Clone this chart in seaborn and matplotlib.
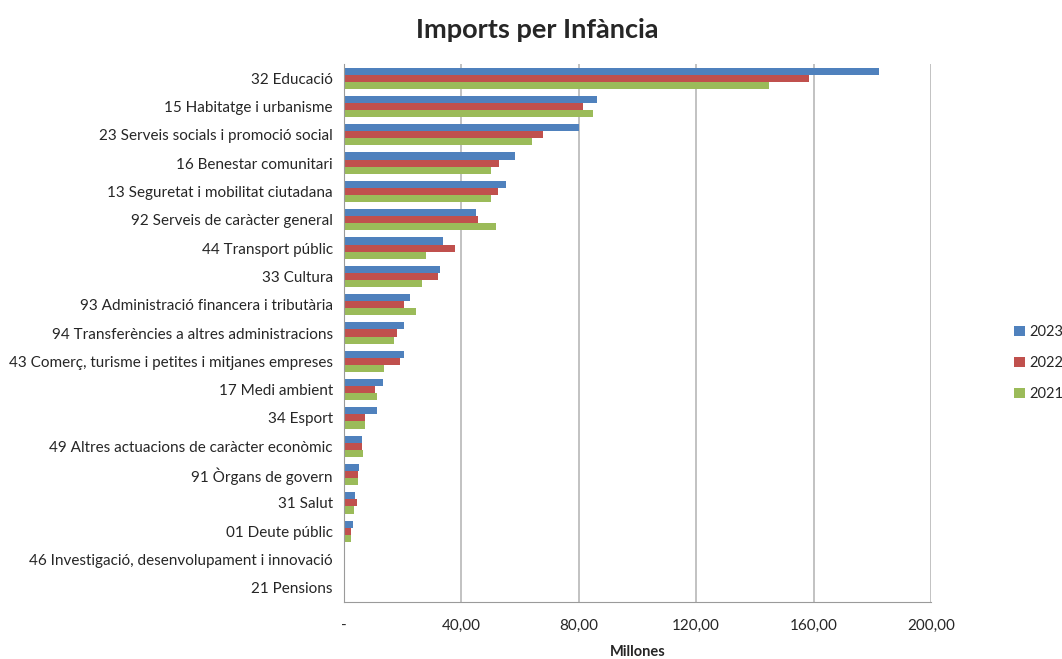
import matplotlib
matplotlib.use("Agg")
from matplotlib import pyplot as plt
import matplotlib.ticker as mticker
import pandas as pd
import seaborn as sns

categories = [
    "32 Educació", "15 Habitatge i urbanisme", "23 Serveis socials i promoció social",
    "16 Benestar comunitari", "13 Seguretat i mobilitat ciutadana", "92 Serveis de caràcter general",
    "44 Transport públic", "33 Cultura", "93 Administració financera i tributària",
    "94 Transferències a altres administracions", "43 Comerç, turisme i petites i mitjanes empreses",
    "17 Medi ambient", "34 Esport", "49 Altres actuacions de caràcter econòmic",
    "91 Òrgans de govern", "31 Salut", "01 Deute públic",
    "46 Investigació, desenvolupament i innovació", "21 Pensions",
]
v2023 = [182.2, 86.1, 80.1, 58.4, 55.2, 45.1, 33.7, 32.7, 22.6, 20.6, 20.4, 13.4, 11.1, 6.0, 5.2, 3.6, 3.1, 0.3, 0.0]
v2022 = [158.4, 81.4, 67.7, 52.8, 52.3, 45.7, 37.8, 31.9, 20.4, 18.0, 19.0, 10.7, 7.3, 6.0, 4.9, 4.3, 2.3, 0.3, 0.0]
v2021 = [144.7, 84.8, 64.2, 50.0, 50.2, 51.8, 27.9, 26.6, 24.7, 17.2, 13.7, 11.3, 7.3, 6.5, 4.9, 3.3, 2.3, 0.3, 0.0]
years = ["2023", "2022", "2021"]
colors = ["#4F81BD", "#C0504D", "#9BBB59"]

df = pd.DataFrame({
    "categoria": categories * 3,
    "any": [y for y in years for _ in categories],
    "valor": v2023 + v2022 + v2021,
})

sns.set_style("white")
plt.rcParams["font.family"] = ["Lato", "DejaVu Sans"]

fig = plt.figure(figsize=(10.62, 6.59), dpi=100)
ax = fig.add_axes([344 / 1062, 1 - 602 / 659, (931 - 344) / 1062, (602 - 64) / 659])

sns.barplot(data=df, y="categoria", x="valor", hue="any", hue_order=years,
            palette=colors, orient="h", width=0.75, ax=ax, saturation=1, linewidth=0)

ax.set_xlim(0, 200)
ax.set_xticks([0, 40, 80, 120, 160, 200])
ax.xaxis.set_major_formatter(mticker.FuncFormatter(
    lambda v, p: "-" if v == 0 else f"{v:.2f}".replace(".", ",")))
ax.grid(axis="x", color="#b8b8b8", linewidth=1.2)
ax.set_axisbelow(True)
for s in ["top", "right"]:
    ax.spines[s].set_visible(False)
for s in ["left", "bottom"]:
    ax.spines[s].set_color("#9a9a9a")
ax.tick_params(axis="x", length=5, color="#9a9a9a", labelsize=11, pad=7)
ax.tick_params(axis="y", length=0, labelsize=11, pad=8)
ax.set_ylabel("")
ax.set_xlabel("Millones", fontsize=10.5, fontweight="bold", labelpad=9)

fig.suptitle("Imports per Infància", fontsize=19.5, fontweight="bold", x=537 / 1062, y=1 - 30 / 659, va="center")

ax.legend(loc="center left", bbox_to_anchor=(1.142, 0.444), frameon=False, fontsize=10.5,
          handlelength=0.7, handleheight=0.7, labelspacing=1.15, handletextpad=0.35,
          borderpad=0, borderaxespad=0)

fig.savefig("out.png", dpi=100)
